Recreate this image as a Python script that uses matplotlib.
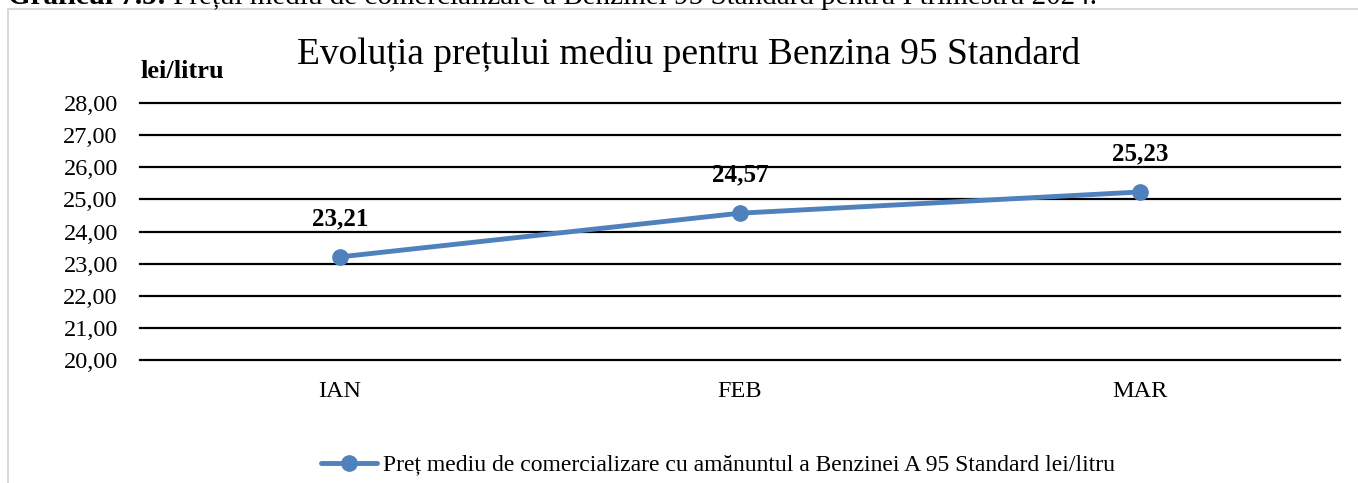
import matplotlib
matplotlib.use("Agg")
import matplotlib.pyplot as plt
from matplotlib.patches import Rectangle

months = ["IAN", "FEB", "MAR"]
prices = [23.21, 24.57, 25.23]
yticks = [20, 21, 22, 23, 24, 25, 26, 27, 28]
series_name = "Preț mediu de comercializare cu amănuntul a Benzinei A 95 Standard lei/litru"
chart_title = "Evoluția prețului mediu pentru Benzina 95 Standard"
y_unit = "lei/litru"
caption_bold = "Graficul 7.5:"
caption_rest = " Prețul mediu de comercializare a Benzinei 95 Standard pentru I trimestru 2024."

plt.rcParams['font.family'] = ['Liberation Serif', 'DejaVu Serif']

W, H = 1358, 483
fig = plt.figure(figsize=(W / 100, H / 100), dpi=100)

def fx(px):
    return px / W

def fy(py):
    return 1 - py / H

# chart border
fig.patches.append(Rectangle((fx(8), fy(495)), fx(1360) - fx(8), fy(9) - fy(495),
                             transform=fig.transFigure, fill=False,
                             edgecolor='#d9d9d9', linewidth=1.5))

# caption partially cut at top (as in the reference)
t1 = fig.text(fx(8), fy(4), caption_bold, fontsize=21, fontweight='bold',
              ha='left', va='baseline')
fig.canvas.draw()
bb = t1.get_window_extent()
fig.text(bb.x1 / W, fy(4), caption_rest, fontsize=21, ha='left', va='baseline')

ax = fig.add_axes([fx(140), fy(360), fx(1340) - fx(140), fy(103) - fy(360)])
x = list(range(len(months)))
color = '#4F81BD'
ax.plot(x, prices, color=color, linewidth=3.5, marker='o', markersize=11,
        solid_capstyle='round', zorder=3, label=series_name)
ax.set_xlim(-0.5, len(months) - 0.5)
ax.set_ylim(20, 28)
ax.set_yticks(yticks)
ax.set_yticklabels([f"{v:.2f}".replace('.', ',') for v in yticks], fontsize=17.5)
ax.set_xticks(x)
ax.set_xticklabels(months, fontsize=17.5)
ax.tick_params(axis='both', length=0)
ax.tick_params(axis='y', pad=16)
ax.tick_params(axis='x', pad=15)
ax.yaxis.grid(True, color='black', linewidth=1.6)
for gl in ax.get_ygridlines():
    gl.set_clip_on(False)
ax.set_axisbelow(True)
for s in ax.spines.values():
    s.set_visible(False)

for xi, v in zip(x, prices):
    ax.annotate(f"{v:.2f}".replace('.', ','), (xi, v), xytext=(0, 19),
                textcoords='offset points', ha='center', va='bottom',
                fontsize=18, fontweight='bold')

fig.text(fx(689), fy(55), chart_title, fontsize=27, ha='center', va='center')
fig.text(fx(140), fy(71), y_unit, fontsize=19, fontweight='bold', ha='left', va='center')

leg = fig.legend(loc='center', bbox_to_anchor=(fx(718), fy(465)), frameon=False,
                 fontsize=17, handlelength=2.4, handletextpad=0.25)

fig.savefig("out.png", dpi=100)
